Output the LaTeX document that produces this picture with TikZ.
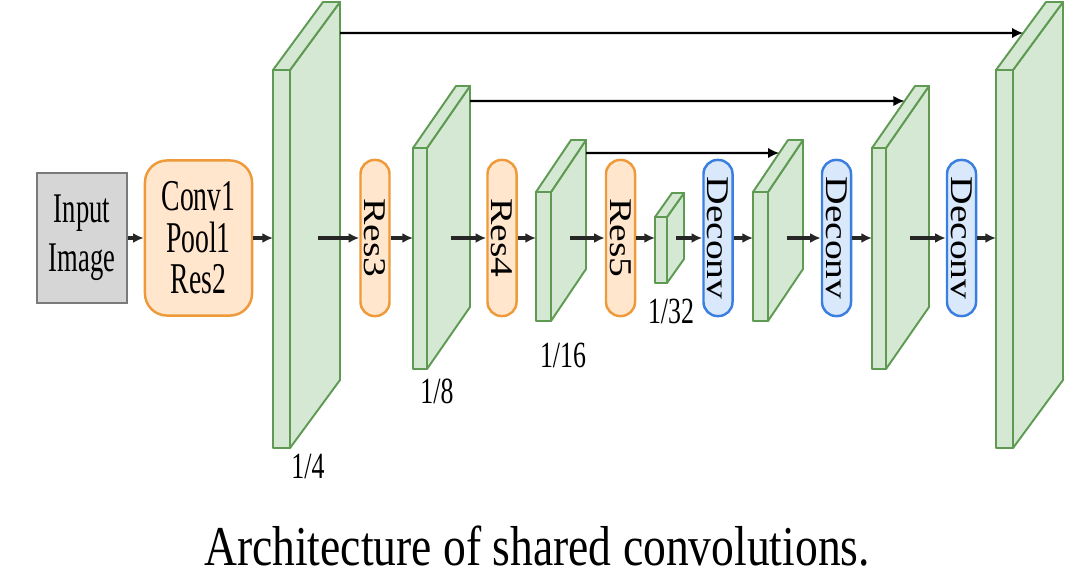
\documentclass[tikz,border=0pt]{standalone}
\usepackage{fontspec}
\setmainfont{Liberation Serif}
\newfontfamily\boxfont[FakeStretch=0.63]{Liberation Serif}
\newfontfamily\numfont[FakeStretch=0.7]{Liberation Serif}
\newfontfamily\capfont[FakeStretch=0.81]{Liberation Serif}
\newfontfamily\sidefont[FakeStretch=1.25]{Liberation Serif}
\usetikzlibrary{arrows.meta,calc}

\definecolor{fmapfill}{HTML}{D5E8D4}
\definecolor{fmapline}{HTML}{5E9A52}
\definecolor{resfill}{HTML}{FFE6CC}
\definecolor{resline}{HTML}{EE9A3A}
\definecolor{decfill}{HTML}{DAE8FC}
\definecolor{decline}{HTML}{3A7FE0}
\definecolor{inpfill}{HTML}{D6D6D6}
\definecolor{inpline}{HTML}{7A7A7A}

% feature map slab: name, left x, top y, width, height, depth x, depth y
\newcommand{\fmap}[7]{%
  \node[fmap, minimum width=#4*0.01cm, minimum height=#5*0.01cm] (#1) at (#2+#4/2, #3+#5/2) {};
  \coordinate (#1-fl) at (#1.north west);
  \draw[fmap] (#1.north east) -- ++(#6,-#7) -- ++(0,#5) -- ++(-#6,#7) -- cycle;
  \draw[fmap] (#1.north west) -- ++(#6,-#7) coordinate (#1-tl) -- ++(#4,0) coordinate (#1-tr) -- (#1.north east) -- cycle;
  \coordinate (#1-out) at ($(#1.east)+(0.55*#6,0)$);
}

\begin{document}
\begin{tikzpicture}[x=0.01cm, y=-0.01cm,
    fmap/.style={draw=fmapline, fill=fmapfill, line width=0.55pt, inner sep=0pt, outer sep=0pt, line join=round},
    inbox/.style={draw=inpline, fill=inpfill, line width=0.7pt, minimum width=0.9cm, minimum height=1.3cm, align=center, inner sep=0pt, font={\boxfont\fontsize{12pt}{14pt}\selectfont}},
    convbox/.style={draw=resline, fill=resfill, line width=0.7pt, rounded corners=0.22cm, minimum width=1.07cm, minimum height=1.55cm, align=center, inner sep=0pt, font={\boxfont\fontsize{12.5pt}{11.8pt}\selectfont}},
    resbox/.style={draw=resline, fill=resfill, line width=0.7pt, rounded corners=0.14cm, rotate=-90, minimum width=1.56cm, minimum height=0.29cm, inner sep=0pt, text depth=0pt, font={\sidefont\fontsize{9pt}{11pt}\selectfont}},
    decbox/.style={resbox, draw=decline, fill=decfill},
    numlabel/.style={font={\numfont\fontsize{10.5pt}{12pt}\selectfont}, inner sep=0pt},
    caption/.style={font={\capfont\fontsize{16pt}{18pt}\selectfont}, inner sep=0pt},
    arrow/.style={-{Latex[length=3pt,width=2.8pt]}, line width=0.9pt, black!85},
    skip/.style={-{Latex[length=3.2pt,width=3pt]}, line width=0.7pt, black}
]
\useasboundingbox (0,0) rectangle (1080,582);

% Input and stem
\node[inbox] (input) at (82,238) {Input\\Image};
\node[convbox] (conv) at (198.5,238) {Conv1\\Pool1\\Res2};

% Encoder feature maps
\fmap{f4}{273}{70}{17}{378}{50}{68}
\fmap{f8}{413}{148}{14}{221}{43}{62}
\fmap{f16}{536}{192}{15}{129}{35}{52}
\fmap{f32}{655}{217}{12}{66}{17}{24}

% Decoder feature maps
\fmap{u16}{753}{192}{15}{129}{35}{52}
\fmap{u8}{872}{148}{14}{221}{43}{62}
\fmap{u4}{996}{70}{17}{378}{50}{68}

% Res blocks
\node[resbox] (res3) at (375,238) {Res3};
\node[resbox] (res4) at (502,238) {Res4};
\node[resbox] (res5) at (620.5,238) {Res5};

% Deconv blocks
\node[decbox] (dec1) at (718,238) {Deconv};
\node[decbox] (dec2) at (836.5,238) {Deconv};
\node[decbox] (dec3) at (961.5,238) {Deconv};

% Scale labels
\node[numlabel, anchor=base] (l4) at (308,478) {1/4};
\node[numlabel, anchor=base] (l8) at (437,403) {1/8};
\node[numlabel, anchor=base] (l16) at (563,367) {1/16};
\node[numlabel, anchor=base] (l32) at (671,323) {1/32};

% Main path
\draw[arrow] (input) -- (conv);
\draw[arrow] (conv) -- (conv -| f4.west);
\draw[arrow] (f4-out |- res3) -- (res3);
\draw[arrow] (res3) -- (res3 -| f8.west);
\draw[arrow] (f8-out |- res4) -- (res4);
\draw[arrow] (res4) -- (res4 -| f16.west);
\draw[arrow] (f16-out |- res5) -- (res5);
\draw[arrow] (res5) -- (res5 -| f32.west);
\draw[arrow] (f32-out |- dec1) -- (dec1);
\draw[arrow] (dec1) -- (dec1 -| u16.west);
\draw[arrow] (u16-out |- dec2) -- (dec2);
\draw[arrow] (dec2) -- (dec2 -| u8.west);
\draw[arrow] (u8-out |- dec3) -- (dec3);
\draw[arrow] (dec3) -- (dec3 -| u4.west);

% Skip connections
\coordinate (k4) at ($(f4-tr)+(0,31)$);
\coordinate (k4e) at ($(k4)+(10,0)$);
\coordinate (k8) at ($(f8-tr)+(0,15)$);
\coordinate (k8e) at ($(k8)+(10,0)$);
\coordinate (k16) at ($(f16-tr)+(0,13)$);
\coordinate (k16e) at ($(k16)+(10,0)$);
\draw[skip] (k4) -- (intersection of k4--k4e and u4-fl--u4-tl);
\draw[skip] (k8) -- (intersection of k8--k8e and u8-fl--u8-tl);
\draw[skip] (k16) -- (intersection of k16--k16e and u16-fl--u16-tl);

% Caption
\node[caption, anchor=base] (cap) at (537,565) {Architecture of shared convolutions.};

\end{tikzpicture}
\end{document}
